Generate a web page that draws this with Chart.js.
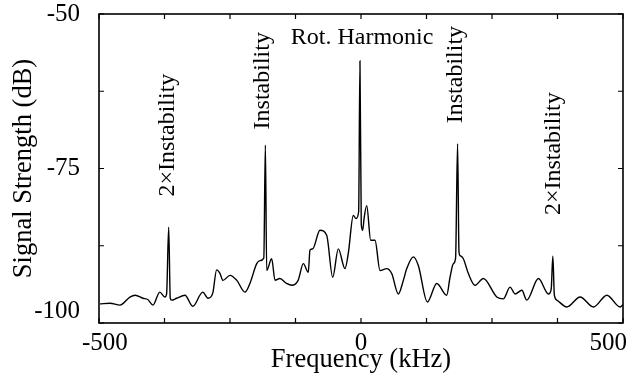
<!DOCTYPE html>
<html>
<head>
<meta charset="utf-8">
<script src="https://cdn.jsdelivr.net/npm/chart.js@4/dist/chart.umd.min.js"></script>
<style>
  html, body { margin: 0; padding: 0; background: #ffffff; }
  canvas { display: block; }
</style>
</head>
<body>
<canvas id="spectrum" width="639" height="381"></canvas>
<script>
// Spectrum: frequency offset (kHz) and measured signal strength (dB)
const freqKHz = [
  -498, -479, -460, -441, -431, -416, -407, -397, -384, -374,
  -371, -367, -364, -361.5, -352, -336, -321, -302, -292, -283,
  -275.5, -269, -263.5, -250, -237, -221.5, -212, -199, -193, -185.5,
  -182.5, -180, -170.5, -164, -155, -142, -132, -120, -110, -100.6,
  -97.4, -92.2, -78.3, -65.5, -54, -43.3, -30.6, -24.2, -14.7, -9.5,
  -4.5, -2, 0.5, 3.2, 6, 10.9, 18.5, 26.7, 36.3, 49.1,
  58.6, 71.2, 80.8, 87.3, 99.9, 109.4, 126.6, 144.6, 163.6, 169.9,
  176.2, 180.5, 184.3, 187, 189, 195.3, 204.9, 217.7, 233.5, 259.1,
  271.7, 284.5, 294.1, 306.9, 316.4, 338.6, 357.7, 363, 366.1, 369,
  373.7, 392.8, 418.2, 443.6, 469.2, 494.6, 500
];
const signalDB = [
  -96.9, -96.8, -97.1, -95.8, -95.5, -96.0, -96.2, -97.1, -95.0, -95.8,
  -95.3, -84.5, -96.0, -96.3, -96.0, -95.5, -97.3, -95.0, -96.0, -95.2,
  -91.4, -92.0, -93.1, -92.3, -93.1, -95.0, -93.6, -90.4, -89.9, -89.5,
  -71.2, -91.5, -89.6, -93.1, -92.8, -93.6, -93.9, -93.1, -90.4, -91.8,
  -88.2, -88.0, -85.0, -85.8, -92.6, -88.0, -91.2, -88.7, -82.6, -83.1,
  -82.0, -57.6, -84.0, -85.0, -83.0, -81.0, -86.6, -86.6, -91.5, -91.2,
  -92.0, -95.3, -93.1, -91.2, -89.3, -90.7, -96.6, -93.6, -95.5, -92.6,
  -90.4, -89.5, -71.0, -88.5, -89.1, -89.6, -92.0, -93.9, -92.8, -95.8,
  -96.1, -94.2, -95.3, -94.7, -96.3, -92.8, -95.3, -94.5, -89.2, -95.5,
  -96.3, -97.4, -95.8, -97.4, -95.5, -97.4, -97.0
];

// Axis ticks
const xTickValues = [-500, -375, -250, -125, 0, 125, 250, 375, 500];
const xTickLabels = ['-500', '', '', '', '0', '', '', '', '500'];
const yTickValues = [-100, -87.5, -75, -62.5, -50];
const yTickLabels = ['-100', '', '-75', '', '-50'];

// Peak annotations (text, frequency kHz, level dB, rotated?)
const noteTexts  = ['2\u00d7Instability', 'Instability', 'Rot. Harmonic', 'Instability', '2\u00d7Instability'];
const noteFreqs  = [-368, -187, 2, 181, 368];
const noteLevels = [-69.6, -60.8, -53.8, -59.8, -72.6];
const noteRotate = [true, true, false, true, true];

const FONT = '"Liberation Serif", "Times New Roman", serif';

const framePlugin = {
  id: 'frame',
  afterDraw(chart) {
    const ctx = chart.ctx;
    const xs = chart.scales.x, ys = chart.scales.y;
    const a = chart.chartArea;
    ctx.save();
    ctx.strokeStyle = '#000';
    ctx.lineWidth = 1.6;
    ctx.strokeRect(a.left, a.top, a.right - a.left, a.bottom - a.top);
    const tl = 5;
    ctx.lineWidth = 1.2;
    ctx.beginPath();
    xTickValues.forEach(v => {
      const px = xs.getPixelForValue(v);
      ctx.moveTo(px, a.bottom); ctx.lineTo(px, a.bottom - tl);
      ctx.moveTo(px, a.top); ctx.lineTo(px, a.top + tl);
    });
    yTickValues.forEach(v => {
      const py = ys.getPixelForValue(v);
      ctx.moveTo(a.left, py); ctx.lineTo(a.left + tl, py);
      ctx.moveTo(a.right, py); ctx.lineTo(a.right - tl, py);
    });
    ctx.stroke();

    ctx.fillStyle = '#000';
    ctx.font = '25px ' + FONT;
    // x tick labels
    ctx.textBaseline = 'alphabetic';
    ctx.textAlign = 'center';
    xTickValues.forEach((v, i) => {
      const t = xTickLabels[i];
      if (!t) return;
      const w = ctx.measureText(t).width;
      let px = xs.getPixelForValue(v);
      px = Math.max(px, a.left - 17 + w / 2);
      px = Math.min(px, a.right + 4 - w / 2);
      ctx.fillText(t, px, a.bottom + 26.5);
    });
    // y tick labels
    ctx.textAlign = 'right';
    ctx.textBaseline = 'middle';
    yTickValues.forEach((v, i) => {
      const t = yTickLabels[i];
      if (!t) return;
      const py = Math.min(ys.getPixelForValue(v), a.bottom - 12);
      ctx.fillText(t, a.left - 19, py);
    });
    // axis titles
    ctx.font = '26.5px ' + FONT;
    ctx.textAlign = 'center';
    ctx.textBaseline = 'alphabetic';
    ctx.fillText('Frequency (kHz)', (a.left + a.right) / 2, a.bottom + 44);
    ctx.save();
    ctx.translate(31, (a.top + a.bottom) / 2);
    ctx.rotate(-Math.PI / 2);
    ctx.fillText('Signal Strength (dB)', 0, 0);
    ctx.restore();

    // peak annotations
    ctx.font = '24px ' + FONT;
    ctx.textBaseline = 'middle';
    noteTexts.forEach((t, i) => {
      const px = xs.getPixelForValue(noteFreqs[i]);
      const py = ys.getPixelForValue(noteLevels[i]);
      ctx.save();
      ctx.translate(px, py);
      if (noteRotate[i]) ctx.rotate(-Math.PI / 2);
      ctx.fillText(t, 0, 0);
      ctx.restore();
    });
    ctx.restore();
  }
};

new Chart(document.getElementById('spectrum'), {
  type: 'line',
  data: {
    datasets: [{
      data: freqKHz.map((f, i) => ({ x: f, y: signalDB[i] })),
      borderColor: '#000',
      borderWidth: 1.4,
      pointRadius: 0,
      cubicInterpolationMode: 'monotone',
      fill: false
    }]
  },
  options: {
    responsive: false,
    animation: false,
    layout: { padding: { left: 99, right: 16, top: 14, bottom: 58 } },
    plugins: { legend: { display: false }, tooltip: { enabled: false } },
    scales: {
      x: { type: 'linear', min: -500, max: 500, display: false },
      y: { type: 'linear', min: -100, max: -50, display: false }
    }
  },
  plugins: [framePlugin]
});
</script>
</body>
</html>
